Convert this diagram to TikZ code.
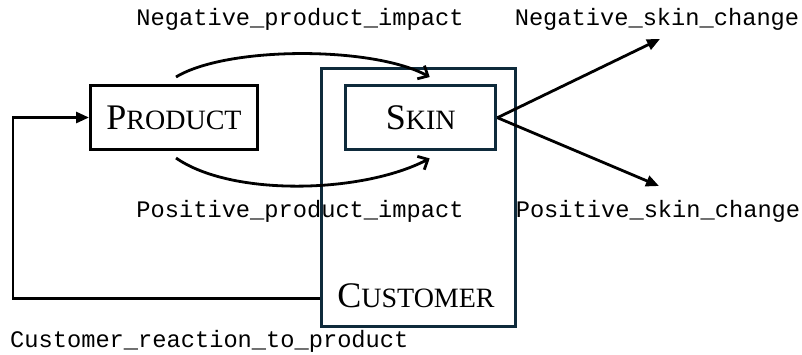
\documentclass[tikz,border=0pt]{standalone}
\usepackage{fontspec}
\setmainfont{Liberation Serif}
\newfontfamily\monof{Liberation Mono}
\usetikzlibrary{arrows.meta}
\definecolor{navy}{HTML}{0E2A3B}
\newcommand{\fakesc}[2]{{\fontsize{36}{40}\selectfont #1\fontsize{28}{32}\selectfont #2}}
\begin{document}
\begin{tikzpicture}[x=1pt,y=-1pt,
  lbl/.style={font=\monof\fontsize{23.7}{26}\selectfont, anchor=base, inner sep=0pt},
  box/.style={inner sep=0pt, anchor=north west},
  conn/.style={line width=2.8pt, -{Triangle[length=13pt,width=11pt]}},
  curv/.style={line width=2.8pt, -{Straight Barb[length=8pt,width=15pt]}}]
\useasboundingbox (0,0) rectangle (802,354);
\node[box, draw=navy, line width=2.6pt, minimum width=194pt, minimum height=258pt] (cust) at (320,67) {};
\node[box, draw=black, line width=3pt, minimum width=167pt, minimum height=64pt] (prod) at (89,84) {\fakesc{P}{RODUCT}};
\node[box, draw=navy, line width=3.4pt, minimum width=150pt, minimum height=64pt] (skin) at (344,84) {\fakesc{S}{KIN}};
\node[anchor=base, inner sep=0pt] (custlbl) at (416,307) {\fakesc{C}{USTOMER}};
\coordinate (negtip) at (660,39);
\coordinate (postip) at (659,186);
\draw[curv] ([xshift=2pt,yshift=7pt]prod.north) .. controls +(51,-31) and +(-57,-31) .. ([xshift=9pt,yshift=7pt]skin.north);
\draw[curv] ([xshift=2pt,yshift=-7pt]prod.south) .. controls +(56,39) and +(-67,35) .. ([xshift=9pt,yshift=-7pt]skin.south);
\draw[conn] (skin.east) -- (negtip);
\draw[conn] (skin.east) -- (postip);
\draw[conn] ([yshift=29pt]cust.south west) -- ++(-307,0) |- (prod.west);
\node[lbl] (l1) at (300,25) {Negative\_product\_impact};
\node[lbl] (l2) at (657,25) {Negative\_skin\_change};
\node[lbl] (l3) at (300,217) {Positive\_product\_impact};
\node[lbl] (l4) at (658,217) {Positive\_skin\_change};
\node[lbl, anchor=base west] (l5) at (10,347) {Customer\_reaction\_to\_product};
\end{tikzpicture}
\end{document}
